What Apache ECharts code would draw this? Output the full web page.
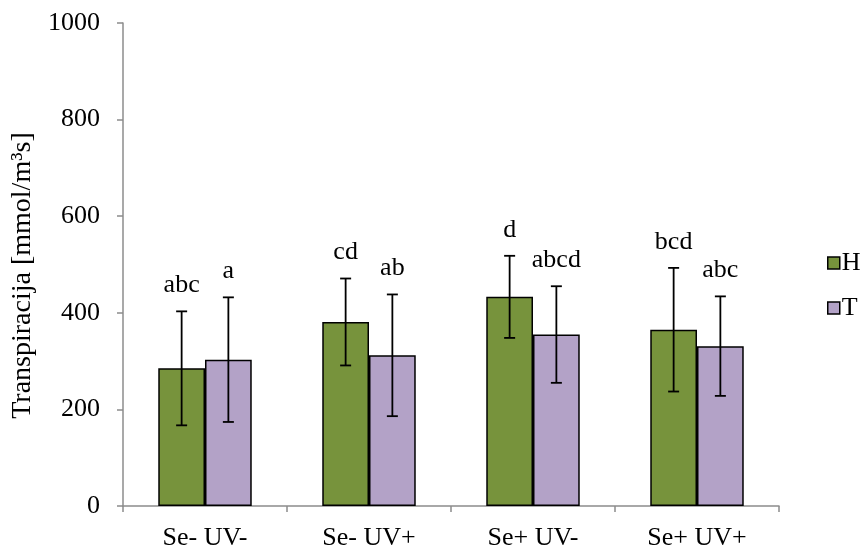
<!DOCTYPE html>
<html>
<head>
<meta charset="utf-8">
<script src="https://cdn.jsdelivr.net/npm/echarts@6/dist/echarts.min.js"></script>
<style>html,body{margin:0;padding:0;background:#fff}#c{width:864px;height:551px}</style>
</head>
<body>
<div id="c"></div>
<script>
const categories = ['Se- UV-', 'Se- UV+', 'Se+ UV-', 'Se+ UV+'];
const hMean = [285, 381, 433, 365];
const hErr = [118, 90, 85, 128];
const hLetters = ['abc', 'cd', 'd', 'bcd'];
const tMean = [303, 312, 355, 331];
const tErr = [129, 126, 100, 103];
const tLetters = ['a', 'ab', 'abcd', 'abc'];
const yTicks = [0, 200, 400, 600, 800, 1000];

const FONT = '"Liberation Serif", "Times New Roman", serif';
const GAP = 0.43;

function errSeries(means, errs, letters, side) {
  return {
    type: 'custom',
    z: 5,
    silent: true,
    data: means.map((m, i) => [i, m, errs[i], letters[i]]),
    renderItem: function (params, api) {
      const i = api.value(0), m = api.value(1), e = api.value(2);
      const catW = api.size([1, 0])[0];
      const barW = catW * (1 - GAP) / 2;
      const x = api.coord([i, 0])[0] + side * barW / 2;
      const yTop = api.coord([i, m + e])[1];
      const yBot = api.coord([i, m - e])[1];
      const cap = 5.5;
      const st = { stroke: '#000', lineWidth: 1.8 };
      return {
        type: 'group',
        children: [
          { type: 'line', shape: { x1: x, y1: yTop, x2: x, y2: yBot }, style: st },
          { type: 'line', shape: { x1: x - cap, y1: yTop, x2: x + cap, y2: yTop }, style: st },
          { type: 'line', shape: { x1: x - cap, y1: yBot, x2: x + cap, y2: yBot }, style: st },
          { type: 'text', x: x, y: yTop - 26, style: {
              text: letters[i], fill: '#000', font: '26px ' + FONT,
              align: 'center', verticalAlign: 'middle' } }
        ]
      };
    }
  };
}

const chart = echarts.init(document.getElementById('c'));
chart.setOption({
  animation: false,
  backgroundColor: '#fff',
  grid: { left: 123, right: 85, top: 23, bottom: 45, containLabel: false },
  legend: {
    orient: 'vertical',
    left: 822,
    top: 245,
    itemWidth: 12,
    itemHeight: 12,
    itemGap: 19,
    icon: 'rect',
    textStyle: { fontFamily: FONT, fontSize: 26, color: '#000', padding: [0, 0, 0, -3] },
    data: [
      { name: 'H', itemStyle: { color: '#77933C', borderColor: '#000', borderWidth: 1.5 } },
      { name: 'T', itemStyle: { color: '#B3A2C7', borderColor: '#000', borderWidth: 1.5 } }
    ]
  },
  xAxis: {
    type: 'category',
    data: categories,
    axisLine: { lineStyle: { color: '#8c8c8c', width: 1.5 } },
    axisTick: { show: true, length: 6, lineStyle: { color: '#8c8c8c', width: 1.5 } },
    axisLabel: { fontFamily: FONT, fontSize: 26, color: '#000', margin: 19 },
    splitLine: { show: false }
  },
  yAxis: {
    type: 'value',
    min: 0,
    max: 1000,
    interval: 200,
    name: 'Transpiracija [mmol/m³s]',
    nameLocation: 'middle',
    nameGap: 84,
    nameRotate: 90,
    nameTextStyle: { fontFamily: FONT, fontSize: 28, color: '#000', padding: [0, 22, 0, 0] },
    axisLine: { show: true, lineStyle: { color: '#8c8c8c', width: 1.5 } },
    axisTick: { show: true, length: 6, lineStyle: { color: '#8c8c8c', width: 1.5 } },
    axisLabel: { fontFamily: FONT, fontSize: 26, color: '#000', margin: 23,
      formatter: v => yTicks.includes(v) ? String(v) : '' },
    splitLine: { show: false }
  },
  series: [
    { name: 'H', type: 'bar', data: hMean, barGap: '0%', barCategoryGap: (GAP * 100) + '%',
      itemStyle: { color: '#77933C', borderColor: '#000', borderWidth: 1.5 } },
    { name: 'T', type: 'bar', data: tMean, barGap: '0%', barCategoryGap: (GAP * 100) + '%',
      itemStyle: { color: '#B3A2C7', borderColor: '#000', borderWidth: 1.5 } },
    errSeries(hMean, hErr, hLetters, -1),
    errSeries(tMean, tErr, tLetters, 1)
  ]
});
</script>
</body>
</html>
